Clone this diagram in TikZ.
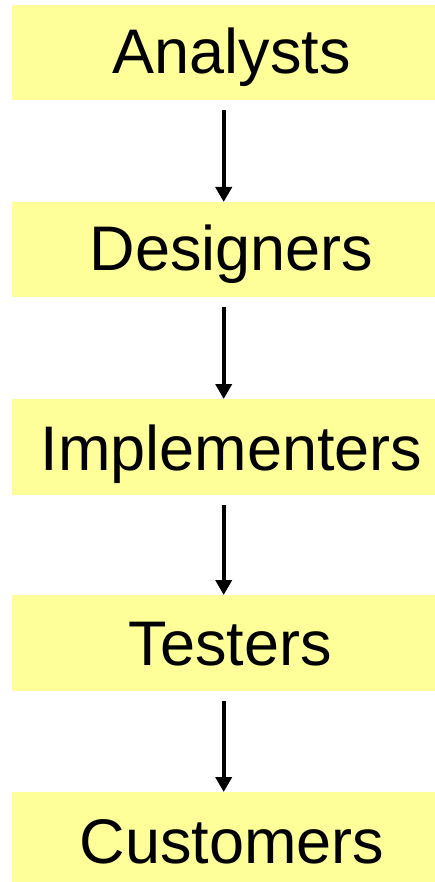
\documentclass[tikz,border=0pt]{standalone}
\usepackage{fontspec}
\setmainfont{Liberation Sans}
\usetikzlibrary{arrows.meta}
\definecolor{boxyellow}{HTML}{FFFF99}
\tikzset{
  box/.style={fill=boxyellow, draw=none, minimum width=423pt, minimum height=96pt, inner sep=0pt, anchor=north west},
  lbl/.style={font=\fontsize{63}{70}\selectfont, inner sep=0pt, anchor=base, text=black},
  flow/.style={-{Triangle[width=16pt,length=15pt]}, line width=4pt, shorten <=10pt}
}
\begin{document}
\begin{tikzpicture}[x=1pt,y=-1pt]
\useasboundingbox (0,0) rectangle (435,882);
\node[box, minimum height=95pt] (a) at (12,5) {};
\node[box, minimum height=95pt] (d) at (12,202) {};
\node[box] (i) at (12,399) {};
\node[box] (t) at (12,595) {};
\node[box] (c) at (12,792) {};
\node[lbl] (ta) at (231.5,73.5) {Analysts};
\node[lbl] (td) at (231.5,270) {Designers};
\node[lbl] (ti) at (231.5,470.5) {Implementers};
\node[lbl] (tt) at (230,665.5) {Testers};
\node[lbl] (tc) at (232,863) {Customers};
\draw[flow] (a.south) -- (d.north);
\draw[flow] (d.south) -- (i.north);
\draw[flow] (i.south) -- (t.north);
\draw[flow] (t.south) -- (c.north);
\end{tikzpicture}
\end{document}
